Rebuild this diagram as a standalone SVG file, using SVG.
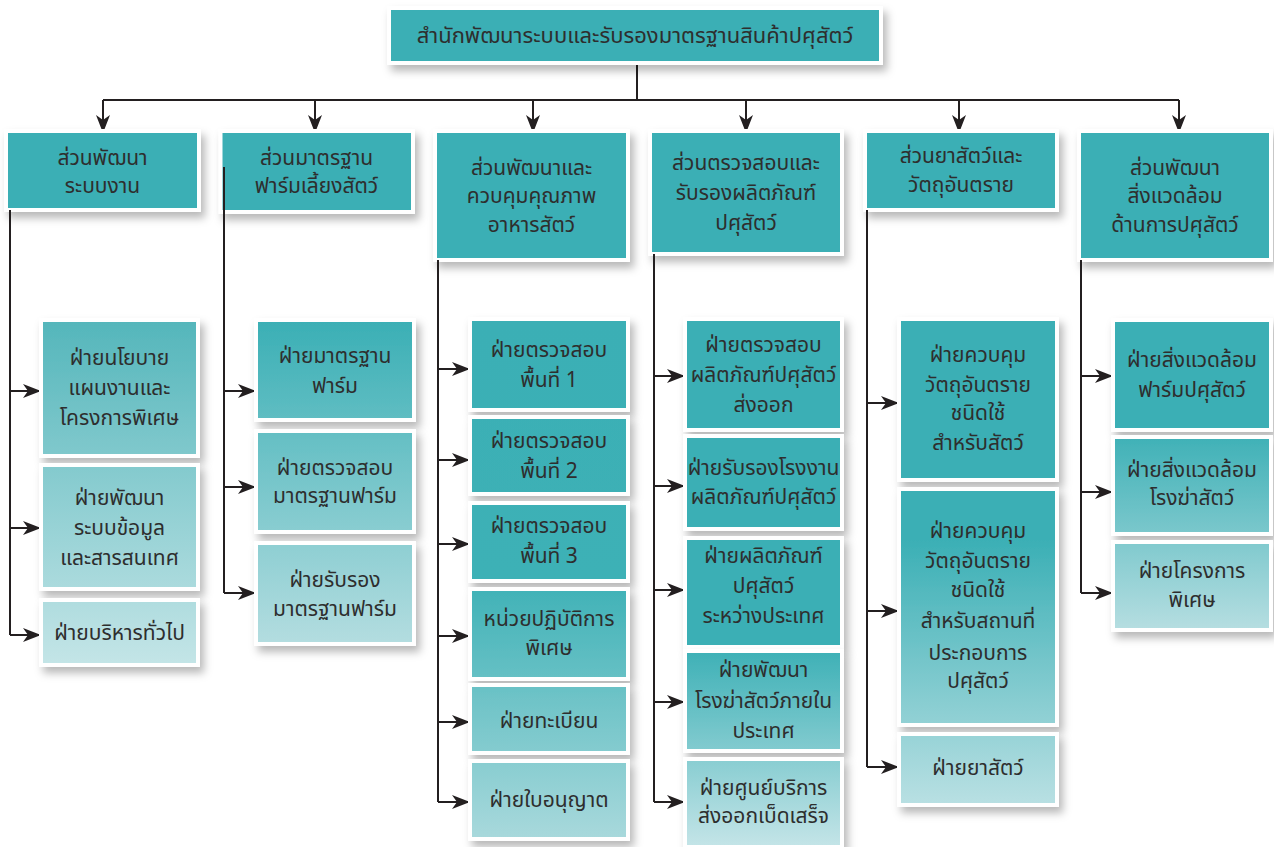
<svg xmlns="http://www.w3.org/2000/svg" width="1274" height="847" viewBox="0 0 1274 847">
<style>
.bx{stroke:#ffffff;stroke-width:4;filter:url(#sh)}
.solid{fill:#3aafb5}
.t{font-family:"Noto Sans Thai","Noto Sans Thai UI","Loma","Garuda","Noto Sans",sans-serif;font-size:21px;fill:#2e2e2e;text-anchor:middle}
.tt{font-size:22px}
.ln{fill:none;stroke:#231f20;stroke-width:2}
.ar{fill:none;stroke:#231f20;stroke-width:2;marker-end:url(#ah)}
</style>
<defs>
<filter id="sh" x="-20%" y="-20%" width="150%" height="150%">
<feDropShadow dx="4" dy="6" stdDeviation="4" flood-color="#000" flood-opacity="0.28"/>
</filter>
<marker id="ah" viewBox="0 0 18 14" markerWidth="18" markerHeight="14" refX="18" refY="7" orient="auto" markerUnits="userSpaceOnUse">
<path d="M0,0 L18,7 L0,14 L5,7 Z" fill="#231f20"/>
</marker>
<linearGradient id="g1" gradientUnits="userSpaceOnUse" x1="0" y1="320" x2="0" y2="665">
<stop offset="0" stop-color="#54b6bb"/><stop offset="1" stop-color="#c4e5e7"/>
</linearGradient>
<linearGradient id="g2" gradientUnits="userSpaceOnUse" x1="0" y1="320" x2="0" y2="645">
<stop offset="0" stop-color="#3aafb5"/><stop offset="1" stop-color="#b4dde0"/>
</linearGradient>
<linearGradient id="g3" gradientUnits="userSpaceOnUse" x1="0" y1="320" x2="0" y2="840">
<stop offset="0" stop-color="#3aafb5"/><stop offset="0.5" stop-color="#3db1b6"/><stop offset="1" stop-color="#a9d9dc"/>
</linearGradient>
<linearGradient id="g4" gradientUnits="userSpaceOnUse" x1="0" y1="320" x2="0" y2="845">
<stop offset="0" stop-color="#3aafb5"/><stop offset="0.62" stop-color="#3aafb5"/><stop offset="1" stop-color="#c3e4e7"/>
</linearGradient>
<linearGradient id="g5" gradientUnits="userSpaceOnUse" x1="0" y1="320" x2="0" y2="805">
<stop offset="0" stop-color="#3aafb5"/><stop offset="0.45" stop-color="#3aafb5"/><stop offset="1" stop-color="#b9e0e3"/>
</linearGradient>
<linearGradient id="g6" gradientUnits="userSpaceOnUse" x1="0" y1="320" x2="0" y2="630">
<stop offset="0" stop-color="#3aafb5"/><stop offset="0.35" stop-color="#3aafb5"/><stop offset="1" stop-color="#b6dee1"/>
</linearGradient>
</defs>

<g id="connectors">
<path class="ln" d="M637,63 V100"/>
<path class="ln" d="M103,100 H1179"/>
<path class="ar" d="M103,100 V133"/>
<path class="ar" d="M315,100 V133"/>
<path class="ar" d="M533,100 V133"/>
<path class="ar" d="M746,100 V133"/>
<path class="ar" d="M959,100 V133"/>
<path class="ar" d="M1179,100 V133"/>
</g>

<g id="title">
<rect class="bx solid" x="389" y="8" width="492" height="55"/>
<text class="t tt" x="635" y="43">สำนักพัฒนาระบบและรับรองมาตรฐานสินค้าปศุสัตว์</text>
</g>

<g id="h1">
<rect class="bx solid" x="6" y="131" width="193" height="79"/>
<text class="t" x="102.5" y="165">ส่วนพัฒนา</text>
<text class="t" x="102.5" y="193">ระบบงาน</text>
</g>
<g id="h2">
<rect class="bx solid" x="220.5" y="131" width="192.5" height="81"/>
<text class="t" x="316.5" y="165">ส่วนมาตรฐาน</text>
<text class="t" x="316.5" y="193">ฟาร์มเลี้ยงสัตว์</text>
</g>
<g id="h3">
<rect class="bx solid" x="435" y="131" width="193" height="129"/>
<text class="t" x="531.5" y="175">ส่วนพัฒนาและ</text>
<text class="t" x="531.5" y="203">ควบคุมคุณภาพ</text>
<text class="t" x="531.5" y="232">อาหารสัตว์</text>
</g>
<g id="h4">
<rect class="bx solid" x="650" y="131" width="192" height="123"/>
<text class="t" x="746" y="170">ส่วนตรวจสอบและ</text>
<text class="t" x="746" y="200">รับรองผลิตภัณฑ์</text>
<text class="t" x="746" y="230">ปศุสัตว์</text>
</g>
<g id="h5">
<rect class="bx solid" x="865" y="131" width="192" height="79"/>
<text class="t" x="961" y="163">ส่วนยาสัตว์และ</text>
<text class="t" x="961" y="192">วัตถุอันตราย</text>
</g>
<g id="h6">
<rect class="bx solid" x="1079" y="131" width="192" height="129"/>
<text class="t" x="1175" y="175">ส่วนพัฒนา</text>
<text class="t" x="1175" y="203">สิ่งแวดล้อม</text>
<text class="t" x="1175" y="232">ด้านการปศุสัตว์</text>
</g>

<g id="branches">
<path class="ln" d="M10,210 V635"/>
<path class="ar" d="M10,391 H41"/>
<path class="ar" d="M10,528 H41"/>
<path class="ar" d="M10,635 H41"/>
<path class="ln" d="M224,167 V593"/>
<path class="ar" d="M224,391 H256"/>
<path class="ar" d="M224,487 H256"/>
<path class="ar" d="M224,593 H256"/>
<path class="ln" d="M438,260 V802"/>
<path class="ar" d="M438,369 H470"/>
<path class="ar" d="M438,460 H470"/>
<path class="ar" d="M438,544 H470"/>
<path class="ar" d="M438,636 H470"/>
<path class="ar" d="M438,722 H470"/>
<path class="ar" d="M438,802 H470"/>
<path class="ln" d="M654,254 V802"/>
<path class="ar" d="M654,376 H685"/>
<path class="ar" d="M654,486 H685"/>
<path class="ar" d="M654,590 H685"/>
<path class="ar" d="M654,702 H685"/>
<path class="ar" d="M654,802 H685"/>
<path class="ln" d="M867,210 V767"/>
<path class="ar" d="M867,403 H899"/>
<path class="ar" d="M867,611 H899"/>
<path class="ar" d="M867,767 H899"/>
<path class="ln" d="M1081,260 V593"/>
<path class="ar" d="M1081,376 H1113"/>
<path class="ar" d="M1081,492 H1113"/>
<path class="ar" d="M1081,593 H1113"/>
</g>

<g id="c1b1"><rect class="bx" fill="url(#g1)" x="41" y="320" width="157" height="136"/>
<text class="t" x="119.5" y="365">ฝ่ายนโยบาย</text><text class="t" x="119.5" y="395">แผนงานและ</text><text class="t" x="119.5" y="425">โครงการพิเศษ</text></g>
<g id="c1b2"><rect class="bx" fill="url(#g1)" x="41" y="465" width="157" height="124"/>
<text class="t" x="119.5" y="505">ฝ่ายพัฒนา</text><text class="t" x="119.5" y="535">ระบบข้อมูล</text><text class="t" x="119.5" y="565">และสารสนเทศ</text></g>
<g id="c1b3"><rect class="bx" fill="url(#g1)" x="41" y="600" width="157" height="65"/>
<text class="t" x="119.5" y="640">ฝ่ายบริหารทั่วไป</text></g>

<g id="c2b1"><rect class="bx" fill="url(#g2)" x="256" y="320" width="158" height="100"/>
<text class="t" x="335" y="363">ฝ่ายมาตรฐาน</text><text class="t" x="335" y="393">ฟาร์ม</text></g>
<g id="c2b2"><rect class="bx" fill="url(#g2)" x="256" y="431" width="158" height="101"/>
<text class="t" x="335" y="475">ฝ่ายตรวจสอบ</text><text class="t" x="335" y="503">มาตรฐานฟาร์ม</text></g>
<g id="c2b3"><rect class="bx" fill="url(#g2)" x="256" y="543" width="158" height="101"/>
<text class="t" x="335" y="587">ฝ่ายรับรอง</text><text class="t" x="335" y="616">มาตรฐานฟาร์ม</text></g>

<g id="c3b1"><rect class="bx" fill="url(#g3)" x="470" y="319" width="158" height="91"/>
<text class="t" x="549" y="357">ฝ่ายตรวจสอบ</text><text class="t" x="549" y="387">พื้นที่  1</text></g>
<g id="c3b2"><rect class="bx" fill="url(#g3)" x="470" y="417" width="158" height="77"/>
<text class="t" x="549" y="448">ฝ่ายตรวจสอบ</text><text class="t" x="549" y="478">พื้นที่  2</text></g>
<g id="c3b3"><rect class="bx" fill="url(#g3)" x="470" y="503" width="158" height="78"/>
<text class="t" x="549" y="533">ฝ่ายตรวจสอบ</text><text class="t" x="549" y="563">พื้นที่  3</text></g>
<g id="c3b4"><rect class="bx" fill="url(#g3)" x="470" y="589" width="158" height="90"/>
<text class="t" x="549" y="626">หน่วยปฏิบัติการ</text><text class="t" x="549" y="655">พิเศษ</text></g>
<g id="c3b5"><rect class="bx" fill="url(#g3)" x="470" y="685" width="158" height="68"/>
<text class="t" x="549" y="728">ฝ่ายทะเบียน</text></g>
<g id="c3b6"><rect class="bx" fill="url(#g3)" x="470" y="761" width="158" height="78"/>
<text class="t" x="549" y="807">ฝ่ายใบอนุญาต</text></g>

<g id="c4b1"><rect class="bx" fill="url(#g4)" x="685" y="319" width="157" height="111"/>
<text class="t" x="763.5" y="352">ฝ่ายตรวจสอบ</text><text class="t" x="763.5" y="382">ผลิตภัณฑ์ปศุสัตว์</text><text class="t" x="763.5" y="412">ส่งออก</text></g>
<g id="c4b2"><rect class="bx" fill="url(#g4)" x="685" y="436" width="157" height="93"/>
<text class="t" x="763.5" y="475">ฝ่ายรับรองโรงงาน</text><text class="t" x="763.5" y="504">ผลิตภัณฑ์ปศุสัตว์</text></g>
<g id="c4b3"><rect class="bx" fill="url(#g4)" x="685" y="538" width="157" height="109"/>
<text class="t" x="763.5" y="563">ฝ่ายผลิตภัณฑ์</text><text class="t" x="763.5" y="593">ปศุสัตว์</text><text class="t" x="763.5" y="623">ระหว่างประเทศ</text></g>
<g id="c4b4"><rect class="bx" fill="url(#g4)" x="685" y="651" width="157" height="100"/>
<text class="t" x="763.5" y="677">ฝ่ายพัฒนา</text><text class="t" x="763.5" y="708">โรงฆ่าสัตว์ภายใน</text><text class="t" x="763.5" y="738">ประเทศ</text></g>
<g id="c4b5"><rect class="bx" fill="url(#g4)" x="685" y="759" width="157" height="88"/>
<text class="t" x="763.5" y="795">ฝ่ายศูนย์บริการ</text><text class="t" x="763.5" y="823">ส่งออกเบ็ดเสร็จ</text></g>

<g id="c5b1"><rect class="bx" fill="url(#g5)" x="899" y="319" width="158" height="161"/>
<text class="t" x="978" y="362">ฝ่ายควบคุม</text><text class="t" x="978" y="392">วัตถุอันตราย</text><text class="t" x="978" y="420">ชนิดใช้</text><text class="t" x="978" y="450">สำหรับสัตว์</text></g>
<g id="c5b2"><rect class="bx" fill="url(#g5)" x="899" y="489" width="158" height="236"/>
<text class="t" x="978" y="538">ฝ่ายควบคุม</text><text class="t" x="978" y="568">วัตถุอันตราย</text><text class="t" x="978" y="597">ชนิดใช้</text><text class="t" x="978" y="628">สำหรับสถานที่</text><text class="t" x="978" y="660">ประกอบการ</text><text class="t" x="978" y="688">ปศุสัตว์</text></g>
<g id="c5b3"><rect class="bx" fill="url(#g5)" x="899" y="734" width="158" height="71"/>
<text class="t" x="978" y="775">ฝ่ายยาสัตว์</text></g>

<g id="c6b1"><rect class="bx" fill="url(#g6)" x="1113" y="320" width="158" height="110"/>
<text class="t" x="1192" y="367">ฝ่ายสิ่งแวดล้อม</text><text class="t" x="1192" y="397">ฟาร์มปศุสัตว์</text></g>
<g id="c6b2"><rect class="bx" fill="url(#g6)" x="1113" y="437" width="158" height="97"/>
<text class="t" x="1192" y="477">ฝ่ายสิ่งแวดล้อม</text><text class="t" x="1192" y="505">โรงฆ่าสัตว์</text></g>
<g id="c6b3"><rect class="bx" fill="url(#g6)" x="1113" y="542" width="158" height="88"/>
<text class="t" x="1192" y="578">ฝ่ายโครงการ</text><text class="t" x="1192" y="607">พิเศษ</text></g>
</svg>
